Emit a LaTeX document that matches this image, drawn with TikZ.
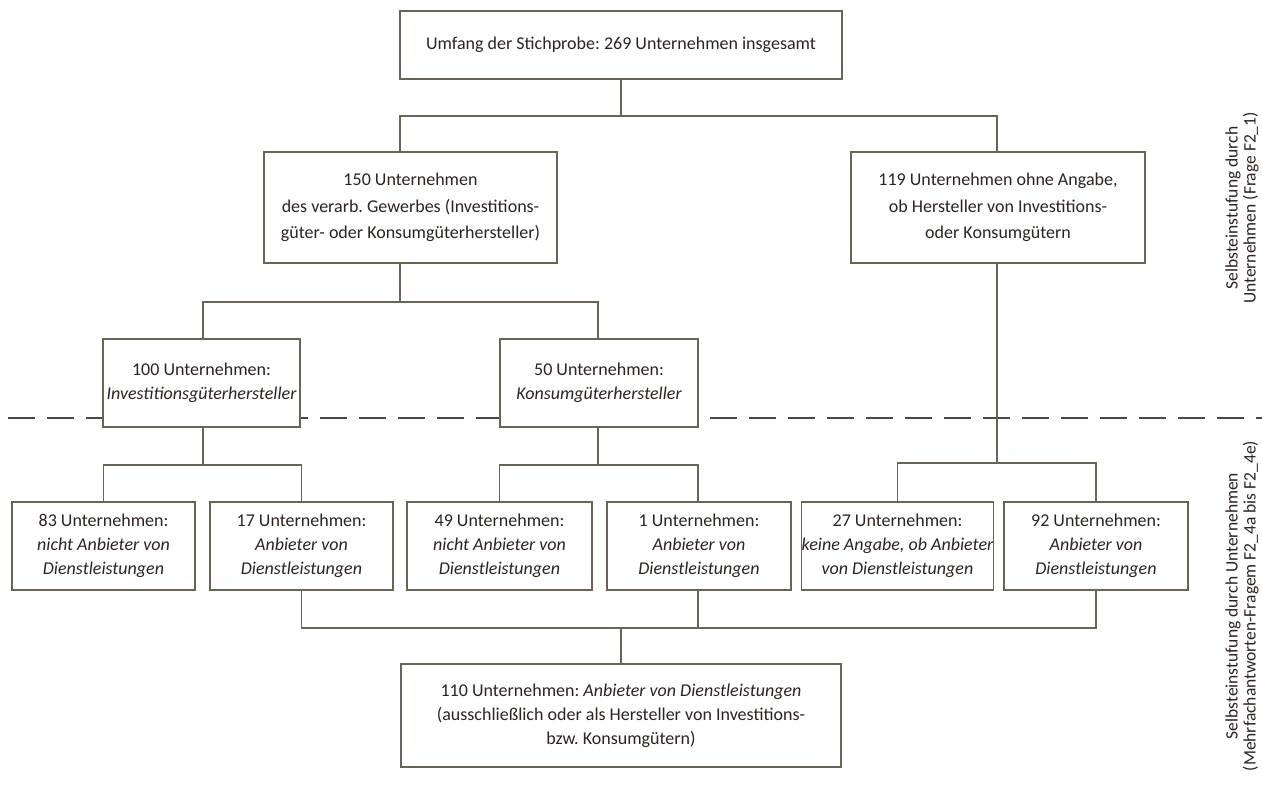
\documentclass[tikz,border=0pt]{standalone}
\usepackage{fontspec}
\setmainfont{Carlito}
\frenchspacing
\definecolor{linec}{RGB}{105,100,86}
\definecolor{dashc}{RGB}{75,72,66}
\definecolor{txtc}{RGB}{45,35,33}
\tikzset{
  box/.style={draw=linec, line width=1.2pt, fill=white, inner sep=0pt, align=center,
    text=txtc, font=\fontsize{18}{24}\selectfont},
  conn/.style={draw=linec, line width=1.2pt},
  side/.style={rotate=90, align=center, text=txtc, inner sep=0pt, font=\fontsize{17.5}{18}\selectfont},
}
\begin{document}
\begin{tikzpicture}[x=1pt,y=-1pt]
\useasboundingbox[fill=white] (0,0) rectangle (1262,790);
% dashed separator
\coordinate (dl) at (8,418);
\coordinate (dr) at (1262,418);
\draw[draw=dashc, line width=1.5pt, dash pattern=on 27pt off 12pt] (dl) -- (dr);

% boxes
\node[box, minimum width=442pt, minimum height=68pt] (top) at (621,45) {Umfang der Stichprobe: 269 Unternehmen insgesamt};
\node[box, minimum width=293pt, minimum height=111pt, font=\fontsize{18}{26.5}\selectfont] (b150) at (410.5,207.5) {150 Unternehmen\\des verarb. Gewerbes (Investitions-\\güter- oder Konsumgüterhersteller)};
\node[box, minimum width=294pt, minimum height=111pt, font=\fontsize{18}{26.5}\selectfont] (b119) at (998,207.5) {119 Unternehmen ohne Angabe,\\ob Hersteller von Investitions-\\oder Konsumgütern};
\node[box, minimum width=197pt, minimum height=88pt] (b100) at (201.5,383) {100 Unternehmen:\\\itshape Investitionsgüterhersteller};
\node[box, minimum width=198pt, minimum height=88pt] (b50) at (599,383) {50 Unternehmen:\\\itshape Konsumgüterhersteller};
\node[box, minimum width=183pt, minimum height=88pt] (b83) at (103.5,546) {83 Unternehmen:\\\itshape nicht Anbieter von\\\itshape Dienstleistungen};
\node[box, minimum width=183pt, minimum height=88pt] (b17) at (301.5,546) {17 Unternehmen:\\\itshape Anbieter von\\\itshape Dienstleistungen};
\node[box, minimum width=185pt, minimum height=88pt] (b49) at (499.5,546) {49 Unternehmen:\\\itshape nicht Anbieter von\\\itshape Dienstleistungen};
\node[box, minimum width=184pt, minimum height=88pt] (b1) at (699,546) {1 Unternehmen:\\\itshape Anbieter von\\\itshape Dienstleistungen};
\node[box, minimum width=185pt, minimum height=88pt] (b27) at (897.5,546) {27 Unternehmen:\\\itshape keine Angabe, ob Anbieter\\\itshape von Dienstleistungen};
\node[box, minimum width=184pt, minimum height=88pt] (b92) at (1096,546) {92 Unternehmen:\\\itshape Anbieter von\\\itshape Dienstleistungen};
\node[box, minimum width=440pt, minimum height=103pt] (bot) at (621,715.5) {110 Unternehmen: \textit{Anbieter von Dienstleistungen}\\(ausschließlich oder als Hersteller von Investitions-\\bzw. Konsumgütern)};

% side labels
\node[side] (s1) at (1242,208) {Selbsteinstufung durch\\Unternehmen (Frage F2\_1)};
\node[side] (s2) at (1242,606) {Selbsteinstufung durch Unternehmen\\(Mehrfachantworten-Fragem F2\_4a bis F2\_4e)};

% connectors
\coordinate (j1) at (621,116);
\coordinate (j2) at (400,302);
\coordinate (j3) at (203,465);
\coordinate (j4) at (598,465);
\coordinate (j5) at (997,463);
\coordinate (j6) at (621,628);
\draw[conn] (top.south) -- (j1);
\draw[conn] ([xshift=-10.5pt]b150.north) |- (j1) -| ([xshift=-1pt]b119.north);
\draw[conn] ([xshift=-10.5pt]b150.south) -- (j2);
\draw[conn] ([xshift=1.5pt]b100.north) |- (j2) -| ([xshift=-1pt]b50.north);
\draw[conn] ([xshift=1.5pt]b100.south) -- (j3);
\draw[conn] (b83.north) |- (j3) -| (b17.north);
\draw[conn] ([xshift=-1pt]b50.south) -- (j4);
\draw[conn] (b49.north) |- (j4) -| ([xshift=-1pt]b1.north);
\draw[conn] ([xshift=-1pt]b119.south) -- (j5);
\draw[conn] (b27.north) |- (j5) -| (b92.north);
\draw[conn] (b17.south) |- (j6) -| (b92.south);
\draw[conn] ([xshift=-1pt]b1.south) -- ([xshift=-1pt]b1.south |- j6);
\draw[conn] (j6) -- (bot.north);
\end{tikzpicture}
\end{document}
